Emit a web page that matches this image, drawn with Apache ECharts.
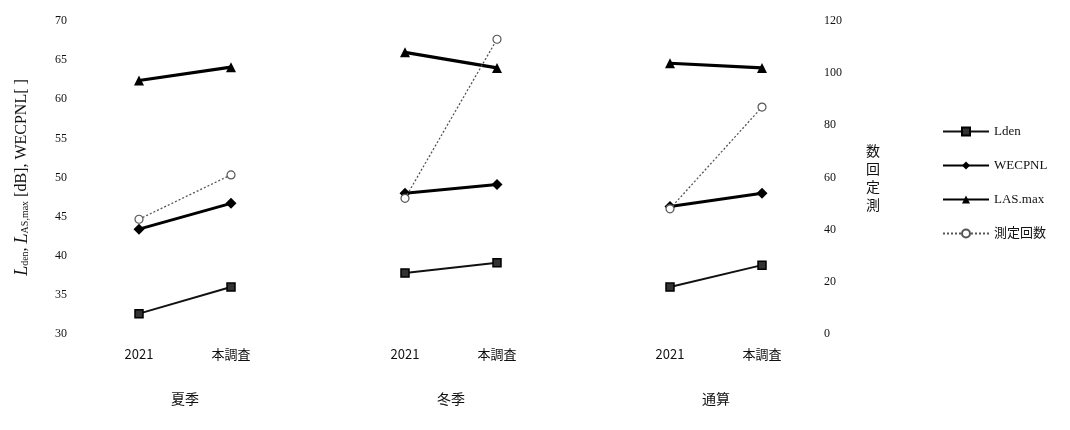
<!DOCTYPE html>
<html><head><meta charset="utf-8">
<script src="https://cdn.jsdelivr.net/npm/echarts@6/dist/echarts.min.js"></script>
<style>html,body{margin:0;padding:0;background:#fff}#c{width:1070px;height:430px}</style>
</head><body><div id="c"></div>
<script>
const groups = ['夏季', '冬季', '通算'];
const periods = ['2021', '本調査'];
const seriesNames = ['Lden', 'WECPNL', 'LAS.max', '測定回数'];
const lden = [[32.6, 36.0], [37.8, 39.1], [36.0, 38.8]];
const wecpnl = [[43.4, 46.7], [48.0, 49.1], [46.3, 48.0]];
const lasmax = [[62.4, 64.1], [66.0, 64.0], [64.6, 64.0]];
const counts = [[44, 61], [52, 113], [48, 87]];
const leftTicks = {min: 30, max: 70, interval: 5};
const rightTicks = {min: 0, max: 120, interval: 20};

const SERIF = '"Liberation Serif","Noto Sans CJK JP",serif';
const CJK = '"Noto Sans CJK JP","Liberation Serif",sans-serif';
const gridLefts = [93, 359, 624];
const gridW = 184;

const grid = gridLefts.map(l => ({left: l, width: gridW, top: 21, bottom: 96}));
const xAxis = groups.map((g, i) => ({
  type: 'category', gridIndex: i, data: periods, boundaryGap: true,
  axisLine: {show: false}, axisTick: {show: false},
  axisLabel: {margin: 14, fontFamily: CJK, fontSize: 13, color: '#111'},
  name: g, nameLocation: 'middle', nameGap: 58,
  nameTextStyle: {fontFamily: CJK, fontSize: 14, color: '#111'}
}));
const yAxis = [];
groups.forEach((g, i) => {
  yAxis.push({
    type: 'value', gridIndex: i, position: 'left', ...leftTicks,
    show: i === 0, axisLine: {show: false}, axisTick: {show: false}, splitLine: {show: false},
    axisLabel: {margin: 26, fontFamily: SERIF, fontSize: 12, color: '#111'},
    name: i === 0 ? '{i|L}{s|den}{t|, }{i|L}{s|AS,max}{t| [dB], WECPNL[ ]}' : '',
    nameLocation: 'middle', nameGap: 62,
    nameTextStyle: {
      fontFamily: SERIF, fontSize: 16, color: '#111',
      rich: {
        i: {fontFamily: SERIF, fontStyle: 'italic', fontSize: 18, color: '#111'},
        s: {fontFamily: SERIF, fontSize: 10, color: '#111', padding: [7, 0, 0, 0]},
        t: {fontFamily: SERIF, fontSize: 16, color: '#111'}
      }
    }
  });
  yAxis.push({
    type: 'value', gridIndex: i, position: 'right', ...rightTicks,
    show: i === 2, axisLine: {show: false}, axisTick: {show: false}, splitLine: {show: false},
    axisLabel: {margin: 16, fontFamily: SERIF, fontSize: 12, color: '#111'}
  });
});

const styles = {
  'Lden': {symbol: 'rect', symbolSize: 8, lw: 2, color: '#111', type: 'solid', item: {color: '#333', borderColor: '#000', borderWidth: 1.5}},
  'WECPNL': {symbol: 'diamond', symbolSize: 11, lw: 3, color: '#000', type: 'solid', item: {color: '#000'}},
  'LAS.max': {symbol: 'triangle', symbolSize: 10, lw: 3.2, color: '#000', type: 'solid', item: {color: '#000'}},
  '測定回数': {symbol: 'circle', symbolSize: 8, lw: 1.3, color: '#555', type: [2, 2], item: {color: '#fff', borderColor: '#555', borderWidth: 1.2}}
};
const dataMap = {'Lden': lden, 'WECPNL': wecpnl, 'LAS.max': lasmax, '測定回数': counts};
const series = [];
groups.forEach((g, i) => {
  seriesNames.forEach(n => {
    const st = styles[n];
    series.push({
      name: n, type: 'line', xAxisIndex: i, yAxisIndex: n === '測定回数' ? i * 2 + 1 : i * 2,
      data: dataMap[n][i], symbol: st.symbol, symbolSize: st.symbolSize,
      lineStyle: {width: st.lw, color: st.color, type: st.type},
      itemStyle: st.item, color: st.color, animation: false, z: n === '測定回数' ? 3 : 2
    });
  });
});

const chart = echarts.init(document.getElementById('c'), null, {renderer: 'canvas'});
chart.setOption({
  backgroundColor: '#fff',
  animation: false,
  grid, xAxis, yAxis, series,
  legend: {
    data: seriesNames, orient: 'vertical', left: 937, top: 120,
    itemWidth: 46, itemHeight: 10, itemGap: 21,
    textStyle: {fontFamily: SERIF, fontSize: 13, color: '#111'},
    selectedMode: false
  },
  graphic: [{
    type: 'text', left: 866, top: 142,
    style: {text: '数\n回\n定\n測', fontFamily: CJK, fontSize: 14, lineHeight: 18, fill: '#111'}
  }]
});
</script></body></html>
